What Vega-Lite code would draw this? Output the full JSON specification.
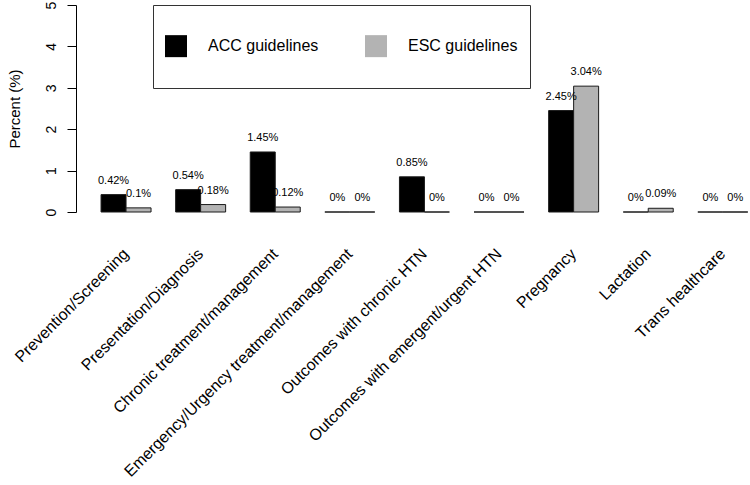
{
  "$schema": "https://vega.github.io/schema/vega-lite/v6.json",
  "width": 674,
  "height": 207,
  "autosize": {"type": "none"},
  "padding": {"left": 76, "top": 5, "right": 0, "bottom": 273},
  "background": "white",
  "config": {
    "font": "Liberation Sans",
    "view": {"stroke": null}
  },
  "data": {
    "values": [
      {"category": "Prevention/Screening", "guideline": "ACC guidelines", "value": 0.42, "label": "0.42%"},
      {"category": "Prevention/Screening", "guideline": "ESC guidelines", "value": 0.1, "label": "0.1%"},
      {"category": "Presentation/Diagnosis", "guideline": "ACC guidelines", "value": 0.54, "label": "0.54%"},
      {"category": "Presentation/Diagnosis", "guideline": "ESC guidelines", "value": 0.18, "label": "0.18%"},
      {"category": "Chronic treatment/management", "guideline": "ACC guidelines", "value": 1.45, "label": "1.45%"},
      {"category": "Chronic treatment/management", "guideline": "ESC guidelines", "value": 0.12, "label": "0.12%"},
      {"category": "Emergency/Urgency treatment/management", "guideline": "ACC guidelines", "value": 0, "label": "0%"},
      {"category": "Emergency/Urgency treatment/management", "guideline": "ESC guidelines", "value": 0, "label": "0%"},
      {"category": "Outcomes with chronic HTN", "guideline": "ACC guidelines", "value": 0.85, "label": "0.85%"},
      {"category": "Outcomes with chronic HTN", "guideline": "ESC guidelines", "value": 0, "label": "0%"},
      {"category": "Outcomes with emergent/urgent HTN", "guideline": "ACC guidelines", "value": 0, "label": "0%"},
      {"category": "Outcomes with emergent/urgent HTN", "guideline": "ESC guidelines", "value": 0, "label": "0%"},
      {"category": "Pregnancy", "guideline": "ACC guidelines", "value": 2.45, "label": "2.45%"},
      {"category": "Pregnancy", "guideline": "ESC guidelines", "value": 3.04, "label": "3.04%"},
      {"category": "Lactation", "guideline": "ACC guidelines", "value": 0, "label": "0%"},
      {"category": "Lactation", "guideline": "ESC guidelines", "value": 0.09, "label": "0.09%"},
      {"category": "Trans healthcare", "guideline": "ACC guidelines", "value": 0, "label": "0%"},
      {"category": "Trans healthcare", "guideline": "ESC guidelines", "value": 0, "label": "0%"}
    ]
  },
  "encoding": {
    "x": {
      "field": "category",
      "type": "nominal",
      "sort": null,
      "scale": {"paddingInner": 0.33, "paddingOuter": 0.1825, "align": 0.92},
      "axis": {
        "title": null,
        "domain": false,
        "ticks": false,
        "labelAngle": -45,
        "labelAlign": "right",
        "labelBaseline": "middle",
        "labelFontSize": 16,
        "labelColor": "black",
        "labelPadding": 39,
        "labelLimit": 500,
        "labelOverlap": false
      }
    },
    "xOffset": {
      "field": "guideline",
      "type": "nominal",
      "sort": ["ACC guidelines", "ESC guidelines"],
      "scale": {"paddingInner": 0, "paddingOuter": 0}
    },
    "y": {
      "field": "value",
      "type": "quantitative",
      "scale": {"domain": [0, 5], "nice": false, "zero": true},
      "axis": {
        "title": "Percent (%)",
        "titleFontSize": 15,
        "titleFontWeight": "normal",
        "titleColor": "black",
        "titlePadding": 22,
        "values": [0, 1, 2, 3, 4, 5],
        "grid": false,
        "domainColor": "black",
        "tickColor": "black",
        "tickSize": 9,
        "labelAngle": 270,
        "labelAlign": "center",
        "labelBaseline": "alphabetic",
        "labelFontSize": 14,
        "labelColor": "black",
        "labelPadding": 12
      }
    }
  },
  "layer": [
    {
      "mark": {"type": "bar", "stroke": "#1a1a1a", "strokeWidth": 1},
      "encoding": {
        "color": {
          "field": "guideline",
          "type": "nominal",
          "scale": {"domain": ["ACC guidelines", "ESC guidelines"], "range": ["#000000", "#b3b3b3"]},
          "legend": {
            "title": " ",
            "titleFontSize": 10,
            "titlePadding": 8,
            "orient": "none",
            "legendX": 77,
            "legendY": 0,
            "direction": "horizontal",
            "symbolType": "M-1,-1H1V1H-1ZM0,2.7",
            "symbolSize": 484,
            "symbolStrokeWidth": 0,
            "symbolOpacity": 1,
            "labelFontSize": 16,
            "labelColor": "black",
            "labelOffset": 21,
            "columnPadding": 46,
            "padding": 12,
            "strokeColor": "#333333",
            "fillColor": "white"
          }
        }
      }
    },
    {
      "mark": {"type": "text", "baseline": "alphabetic", "align": "center", "dy": -11, "fontSize": 11, "color": "black"},
      "encoding": {
        "text": {"field": "label"}
      }
    }
  ]
}
